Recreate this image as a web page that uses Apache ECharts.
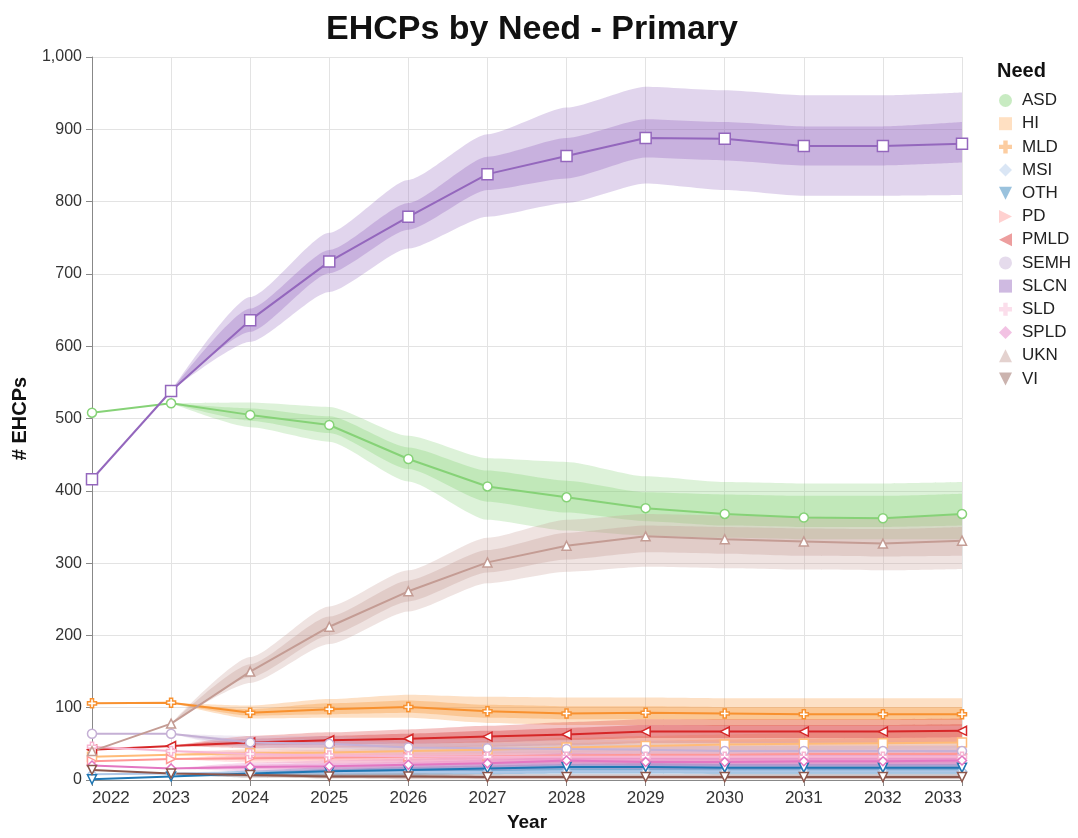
<!DOCTYPE html>
<html>
<head>
<meta charset="utf-8">
<script src="https://cdn.jsdelivr.net/npm/echarts@6/dist/echarts.min.js"></script>
<style>
  html, body { margin: 0; padding: 0; background: #fff; }
  #chart { width: 1078px; height: 838px; }
</style>
</head>
<body>
<div id="chart"></div>
<script>
// Forecast of EHCPs in primary schools by primary need, with two uncertainty bands
const years = ['2022','2023','2024','2025','2026','2027','2028','2029','2030','2031','2032','2033'];
const yTicks = { min: 0, max: 1000, interval: 100 };

const needs = ['ASD','HI','MLD','MSI','OTH','PD','PMLD','SEMH','SLCN','SLD','SPLD','UKN','VI'];

// central estimates
const ASD  = [508, 521, 505, 491, 444, 406, 391, 376, 368, 363, 362, 368];
const HI   = [32, 35, 37, 38, 40, 42, 45, 47, 49, 50, 51, 52];
const MLD  = [106, 107, 93, 98, 101, 95, 92, 93, 92, 91, 91, 91];
const MSI  = [8, 9, 10, 10, 11, 11, 12, 12, 12, 12, 12, 12];
const OTH  = [1, 5, 9, 12, 14, 16, 18, 18, 17, 17, 17, 17];
const PD   = [26, 29, 30, 31, 32, 33, 34, 35, 35, 36, 36, 36];
const PMLD = [42, 47, 52, 55, 57, 60, 63, 67, 67, 67, 67, 68];
const SEMH = [64, 64, 52, 50, 45, 44, 43, 42, 40, 40, 40, 40];
const SLCN = [416, 538, 636, 717, 779, 838, 863, 888, 887, 877, 877, 880];
const SLD  = [46, 40, 36, 34, 33, 32, 32, 32, 32, 32, 32, 32];
const SPLD = [20, 16, 18, 19, 21, 23, 27, 25, 25, 26, 26, 27];
const UKN  = [40, 78, 150, 212, 261, 301, 324, 337, 333, 330, 327, 331];
const VI   = [14, 9, 7, 5, 5, 4, 4, 4, 4, 4, 4, 4];

// inner bands [low, high]
const ASD_inner  = [null,[521,521],[497,514],[480,503],[430,460],[385,428],[370,414],[358,398],[352,395],[350,393],[350,393],[352,396]];
const HI_inner   = [null,[35,35],[34,40],[34,42],[35,45],[36,48],[38,51],[40,54],[41,56],[42,57],[43,58],[44,59]];
const MLD_inner  = [null,[107,107],[89,98],[91,106],[93,110],[86,104],[84,102],[84,102],[83,101],[83,101],[83,101],[83,101]];
const MSI_inner  = [null,[9,9],[8,12],[8,13],[8,14],[8,14],[9,15],[9,15],[9,15],[9,15],[9,15],[9,15]];
const OTH_inner  = [null,[5,5],[7,11],[9,15],[10,18],[12,20],[13,22],[13,23],[12,22],[12,22],[12,22],[12,22]];
const PD_inner   = [null,[29,29],[27,33],[27,35],[27,37],[28,38],[28,40],[29,41],[29,41],[29,42],[29,42],[29,42]];
const PMLD_inner = [null,[47,47],[48,57],[49,61],[50,64],[52,68],[55,72],[58,76],[58,76],[58,76],[58,76],[59,77]];
const SEMH_inner = [null,[64,64],[47,57],[44,56],[39,51],[37,51],[36,50],[35,49],[33,47],[33,47],[33,47],[33,47]];
const SLCN_inner = [null,[538,538],[620,652],[701,733],[761,798],[816,862],[832,888],[861,914],[857,910],[850,904],[850,904],[854,910]];
const SLD_inner  = [null,[40,40],[33,39],[30,38],[29,37],[28,37],[27,37],[27,37],[27,37],[27,37],[27,37],[27,37]];
const SPLD_inner = [null,[16,16],[15,21],[15,23],[17,25],[18,28],[21,32],[20,31],[20,31],[20,32],[20,32],[21,33]];
const UKN_inner  = [null,[78,78],[142,160],[200,226],[247,276],[287,318],[305,342],[315,352],[313,350],[310,348],[309,347],[310,350]];
const VI_inner   = [null,[9,9],[5,9],[3,7],[3,7],[2,6],[2,6],[2,6],[2,6],[2,6],[2,6],[2,6]];

// outer bands [low, high]
const ASD_outer  = [null,[521,521],[488,522],[468,516],[413,476],[360,445],[345,440],[338,420],[335,412],[333,410],[333,410],[333,412]];
const HI_outer   = [null,[35,35],[31,43],[30,46],[30,50],[30,54],[32,58],[33,61],[34,63],[35,65],[35,66],[36,67]];
const MLD_outer  = [null,[107,107],[85,103],[86,112],[86,118],[79,115],[76,114],[76,114],[75,113],[75,113],[75,113],[75,113]];
const MSI_outer  = [null,[9,9],[6,14],[6,15],[6,16],[6,17],[6,18],[6,18],[6,18],[6,18],[6,18],[6,18]];
const OTH_outer  = [null,[5,5],[5,13],[6,18],[7,21],[8,24],[9,27],[9,27],[8,26],[8,26],[8,26],[8,26]];
const PD_outer   = [null,[29,29],[24,36],[23,39],[23,41],[23,43],[23,45],[23,47],[23,47],[23,48],[23,48],[23,48]];
const PMLD_outer = [null,[47,47],[44,61],[45,66],[45,70],[46,75],[48,80],[51,84],[51,84],[51,84],[51,84],[52,85]];
const SEMH_outer = [null,[64,64],[43,61],[39,61],[34,56],[32,56],[30,56],[29,55],[27,53],[27,53],[27,53],[27,53]];
const SLCN_outer = [null,[538,538],[606,668],[675,757],[735,830],[779,893],[798,930],[825,959],[816,954],[808,947],[808,947],[809,951]];
const SLD_outer  = [null,[40,40],[30,42],[27,42],[25,41],[24,41],[23,42],[23,42],[22,42],[22,42],[22,42],[22,42]];
const SPLD_outer = [null,[16,16],[12,24],[12,27],[13,29],[14,33],[16,37],[15,36],[15,36],[15,37],[15,37],[16,38]];
const UKN_outer  = [null,[78,78],[134,170],[188,240],[233,290],[272,335],[288,360],[295,368],[293,366],[291,364],[290,363],[292,367]];
const VI_outer   = [null,[9,9],[3,11],[2,9],[1,9],[1,8],[1,8],[1,8],[1,8],[1,8],[1,8],[1,8]];

const mids   = { ASD, HI, MLD, MSI, OTH, PD, PMLD, SEMH, SLCN, SLD, SPLD, UKN, VI };
const inners = { ASD: ASD_inner, HI: HI_inner, MLD: MLD_inner, MSI: MSI_inner, OTH: OTH_inner, PD: PD_inner,
  PMLD: PMLD_inner, SEMH: SEMH_inner, SLCN: SLCN_inner, SLD: SLD_inner, SPLD: SPLD_inner, UKN: UKN_inner, VI: VI_inner };
const outers = { ASD: ASD_outer, HI: HI_outer, MLD: MLD_outer, MSI: MSI_outer, OTH: OTH_outer, PD: PD_outer,
  PMLD: PMLD_outer, SEMH: SEMH_outer, SLCN: SLCN_outer, SLD: SLD_outer, SPLD: SPLD_outer, UKN: UKN_outer, VI: VI_outer };

const colors = {
  ASD: '#86d277', HI: '#ffbb78', MLD: '#f8912f', MSI: '#aec7e8', OTH: '#1f77b4', PD: '#ff9896',
  PMLD: '#d62728', SEMH: '#c5b0d5', SLCN: '#9467bd', SLD: '#f7b6d2', SPLD: '#e377c2', UKN: '#c49c94', VI: '#8c564b'
};

const SHAPE = {
  circle: 'circle',
  square: 'rect',
  diamond: 'diamond',
  cross: 'path://M3.3,0H6.7V3.3H10V6.7H6.7V10H3.3V6.7H0V3.3H3.3Z',
  up: 'path://M5,0L10,10L0,10Z',
  down: 'path://M0,0L10,0L5,10Z',
  left: 'path://M0,5L10,0L10,10Z',
  right: 'path://M0,0L10,5L0,10Z'
};
const shapes = {
  ASD: SHAPE.circle, HI: SHAPE.square, MLD: SHAPE.cross, MSI: SHAPE.diamond, OTH: SHAPE.down, PD: SHAPE.right,
  PMLD: SHAPE.left, SEMH: SHAPE.circle, SLCN: SHAPE.square, SLD: SHAPE.cross, SPLD: SHAPE.diamond, UKN: SHAPE.up, VI: SHAPE.down
};

function rgba(hex, a) {
  const n = parseInt(hex.slice(1), 16);
  return 'rgba(' + (n >> 16 & 255) + ',' + (n >> 8 & 255) + ',' + (n & 255) + ',' + a + ')';
}

const FONT = '"Liberation Sans", Arial, Helvetica, sans-serif';
const series = [];

// uncertainty bands as stacked areas: invisible lower edge + filled (high - low)
function addBand(name, band, level, alpha) {
  const stack = name + '-' + level;
  series.push({
    name: name + ' ' + level + ' low', type: 'line', stack: stack, silent: true, z: 1,
    data: band.map(p => p ? p[0] : '-'),
    symbol: 'none', lineStyle: { opacity: 0 }, smooth: 0.2, smoothMonotone: 'x'
  });
  series.push({
    name: name + ' ' + level + ' band', type: 'line', stack: stack, silent: true, z: 1,
    data: band.map(p => p ? p[1] - p[0] : '-'),
    symbol: 'none', lineStyle: { opacity: 0 }, smooth: 0.2, smoothMonotone: 'x',
    areaStyle: { color: rgba(colors[name], alpha), opacity: 1 }
  });
}

needs.forEach(n => {
  addBand(n, outers[n], 'outer', 0.28);
  addBand(n, inners[n], 'inner', 0.32);
});

needs.forEach(n => {
  series.push({
    name: n, type: 'line', z: 3,
    data: mids[n],
    symbol: shapes[n], symbolSize: n === 'SLCN' ? 11 : 9,
    lineStyle: { color: colors[n], width: 2 },
    itemStyle: { color: '#fff', borderColor: colors[n], borderWidth: 1.5 },
    emphasis: { disabled: true }
  });
});

const chart = echarts.init(document.getElementById('chart'), null, { renderer: 'canvas' });
chart.setOption({
  animation: false,
  backgroundColor: '#fff',
  title: [
    { text: 'EHCPs by Need - Primary', left: 527, top: 8, textAlign: 'center',
      textStyle: { fontFamily: FONT, fontSize: 34, fontWeight: 'bold', color: '#111' } },
    { text: 'Need', left: 992, top: 56,
      textStyle: { fontFamily: FONT, fontSize: 20, fontWeight: 'bold', color: '#111' } }
  ],
  legend: {
    orient: 'vertical', left: 994, top: 87,
    itemWidth: 13, itemHeight: 13, itemGap: 6.2,
    selectedMode: false,
    textStyle: { fontFamily: FONT, fontSize: 17, color: '#222', padding: [0, 0, 0, 5] },
    data: needs.map(n => ({
      name: n, icon: shapes[n],
      itemStyle: { color: rgba(colors[n], 0.45), borderWidth: 0, opacity: 1 }
    }))
  },
  grid: { left: 92, right: 116, top: 57, bottom: 58, containLabel: false },
  xAxis: {
    type: 'category', data: years, boundaryGap: false,
    name: 'Year', nameLocation: 'middle', nameGap: 33,
    nameTextStyle: { fontFamily: FONT, fontSize: 19, fontWeight: 'bold', color: '#111' },
    axisLine: { lineStyle: { color: '#888', width: 1 } },
    axisTick: { show: true, length: 6, lineStyle: { color: '#888' } },
    axisLabel: { fontFamily: FONT, fontSize: 17, color: '#333', margin: 10,
      alignMinLabel: 'left', alignMaxLabel: 'right' },
    splitLine: { show: true, lineStyle: { color: '#e3e3e3', width: 1 } }
  },
  yAxis: {
    type: 'value', min: yTicks.min, max: yTicks.max, interval: yTicks.interval,
    name: '# EHCPs', nameLocation: 'middle', nameGap: 62,
    nameTextStyle: { fontFamily: FONT, fontSize: 20, fontWeight: 'bold', color: '#111' },
    axisLine: { show: true, lineStyle: { color: '#888', width: 1 } },
    axisTick: { show: true, length: 6, lineStyle: { color: '#888' } },
    axisLabel: { fontFamily: FONT, fontSize: 16, color: '#333', margin: 10,
      formatter: v => v.toLocaleString('en-US') },
    splitLine: { show: true, lineStyle: { color: '#e3e3e3', width: 1 } }
  },
  series: series
});
</script>
</body>
</html>
